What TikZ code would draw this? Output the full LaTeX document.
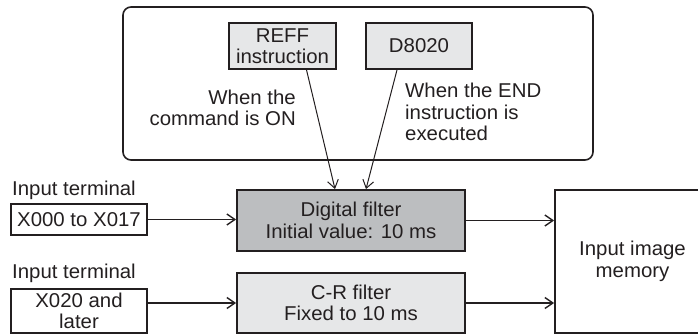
\documentclass[tikz,border=0pt]{standalone}
\usepackage{fontspec}
\setmainfont[FakeStretch=1.02]{Liberation Sans}
\usetikzlibrary{positioning,arrows.meta,calc}
\definecolor{fltdark}{HTML}{BCBEC0}
\definecolor{fltlight}{HTML}{E6E7E8}
\definecolor{ink}{HTML}{231F20}

\tikzset{
  txt/.style={inner sep=0pt, text=ink, font=\fontsize{20}{21.5}\selectfont},
  blk/.style={txt, draw=ink, line width=1.8pt, align=center},
  arr/.style={draw=ink, line width=1.4pt, -{Straight Barb[length=8pt,width=11pt]}},
}

\begin{document}
\begin{tikzpicture}[x=1pt,y=-1pt]
    \useasboundingbox (0,0) rectangle (698,334);
    \clip (0,0) rectangle (698,334);
    % trigger frame
    \node[draw=ink, line width=1.6pt, rounded corners=8pt, minimum width=470pt, minimum height=153pt] (frame) at (358,83.5) {};
    \node[blk, fill=fltlight, minimum width=107pt, minimum height=46pt] (reff) at (282.5,46) {REFF\\instruction};
    \node[blk, fill=fltlight, minimum width=106pt, minimum height=46pt] (dreg) at (419,46) {D8020};
    \node[txt, align=right, anchor=east] (cmdtxt) at (296,108) {When the\\command is ON};
    \node[txt, align=left, anchor=west] (endtxt) at (405,112) {When the END\\instruction is\\executed};
    % filters
    \node[blk, fill=fltdark, minimum width=228pt, minimum height=61pt] (digflt) at (351,220.5) {Digital filter\\Initial value: 10 ms};
    \node[blk, fill=fltlight, minimum width=228pt, minimum height=60pt] (crflt) at (351,303) {C-R filter\\Fixed to 10 ms};
    \node[blk, minimum width=155pt, minimum height=143pt] (mem) at (632.5,261.5) {Input image\\memory};
    % inputs
    \node[txt, anchor=base west] (term1) at (12,195) {Input terminal};
    \node[blk, minimum width=136pt, minimum height=31pt] (xlow) at (79,219.5) {X000 to X017};
    \node[txt, anchor=base west] (term2) at (12,278) {Input terminal};
    \node[blk, minimum width=136pt, minimum height=44pt] (xhigh) at (79,311) {X020 and\\later};
    % connectors
    \draw[arr, line width=1pt] ([xshift=24pt]reff.south) -- ([xshift=-16pt]digflt.north);
    \draw[arr, line width=1pt] ([xshift=-22pt]dreg.south) -- ([xshift=15pt]digflt.north);
    \draw[arr] (xlow.east) -- (xlow.east -| digflt.west);
    \draw[arr] (digflt.east) -- (digflt.east -| mem.west);
    \draw[arr] (xhigh.east |- crflt.west) -- (crflt.west);
    \draw[arr] (crflt.east) -- (crflt.east -| mem.west);
\end{tikzpicture}
\end{document}
